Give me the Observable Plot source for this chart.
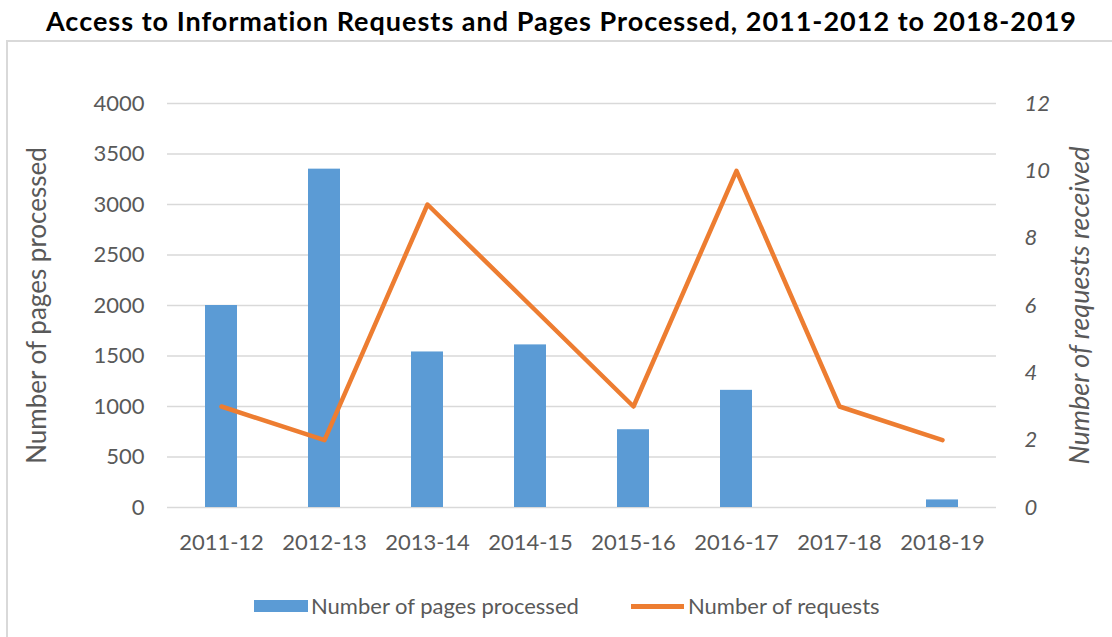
<!DOCTYPE html>
<html>
<head>
<meta charset="utf-8">
<script src="https://cdn.jsdelivr.net/npm/d3@7"></script>
<script src="https://cdn.jsdelivr.net/npm/@observablehq/plot@0.6"></script>
<style>
  html, body { margin: 0; padding: 0; background: #fff; }
  #wrap { position: relative; width: 1112px; height: 637px; overflow: hidden; font-family: Lato, "Open Sans", sans-serif; }
  #title { position: absolute; left: 0; top: 4px; width: 1112px; padding-left: 11px; box-sizing: border-box; height: 34px; line-height: 34px; text-align: center; font-weight: 700; font-size: 27px; letter-spacing: 1px; color: #000; white-space: nowrap; }
  #chart { position: absolute; left: 0; top: 41px; }
  #frame { position: absolute; left: 6px; top: 40px; width: 1200px; height: 700px; border-left: 2px solid #d9d9d9; border-top: 2px solid #d9d9d9; pointer-events: none; }
  .legend { position: absolute; font-size: 22px; color: #595959; line-height: 24px; white-space: nowrap; }
  .sw { position: absolute; }
</style>
</head>
<body>
<div id="wrap">
  <div id="title">Access to Information Requests and Pages Processed, 2011-2012 to 2018-2019</div>
  <div id="chart"></div>
  <div id="legend"></div>
  <div id="frame"></div>
</div>
<script>
// ---- data ----
const categories = ["2011-12", "2012-13", "2013-14", "2014-15", "2015-16", "2016-17", "2017-18", "2018-19"];
const pagesProcessed = [2000, 3350, 1540, 1610, 770, 1160, 0, 75];
const requestsReceived = [3, 2, 9, 6, 3, 10, 3, 2];
const leftTicks = [0, 500, 1000, 1500, 2000, 2500, 3000, 3500, 4000];
const rightTicks = [0, 2, 4, 6, 8, 10, 12];
const seriesNames = ["Number of pages processed", "Number of requests"];
const leftTitle = "Number of pages processed";
const rightTitle = "Number of requests received";
const leftMax = 4000;
const rightMax = 12;

const rows = categories.map((c, i) => ({cat: c, pages: pagesProcessed[i], requests: requestsReceived[i]}));
const toLeft = v => v * leftMax / rightMax;

const blue = "#5B9BD5";
const orange = "#ED7D31";
const grid = "#d9d9d9";
const textCol = "#595959";

const chart = Plot.plot({
  width: 1112,
  height: 596,
  marginLeft: 167,
  marginRight: 116,
  marginTop: 62,
  marginBottom: 130,
  style: {background: "transparent", fontFamily: "Lato, 'Open Sans', sans-serif", color: textCol},
  x: {domain: categories, paddingInner: 0.69, paddingOuter: 0.345, label: null},
  y: {domain: [0, leftMax], label: null},
  marks: [
    Plot.ruleY(leftTicks, {stroke: grid, strokeWidth: 1.5}),
    Plot.barY(rows, {x: "cat", y: "pages", fill: blue}),
    Plot.line(rows, {x: "cat", y: d => toLeft(d.requests), stroke: orange, strokeWidth: 4.5, strokeLinecap: "round", strokeLinejoin: "round"}),
    Plot.axisY(leftTicks, {anchor: "left", tickSize: 0, tickPadding: 23, fontSize: 22, fill: textCol, tickFormat: v => String(v), label: null}),
    Plot.axisY(rightTicks.map(toLeft), {anchor: "right", tickSize: 0, tickPadding: 28, fontSize: 22, fill: textCol, fontStyle: "italic", tickFormat: v => String(Math.round(v * rightMax / leftMax)), label: null}),
    Plot.axisX({tickSize: 0, tickPadding: 27, fontSize: 22, fill: textCol, label: null}),
    Plot.text([leftTitle], {frameAnchor: "left", dx: -130, rotate: -90, textAnchor: "middle", fontSize: 26, fill: textCol}),
    Plot.text([rightTitle], {frameAnchor: "right", dx: 84, rotate: -90, textAnchor: "middle", fontSize: 27, fontStyle: "italic", fill: textCol})
  ]
});
document.getElementById("chart").appendChild(chart);

// ---- legend ----
const leg = document.getElementById("legend");
const legendItems = [
  {name: seriesNames[0], sw: {left: 254, top: 600, width: 54, height: 12, background: blue}, tx: 311},
  {name: seriesNames[1], sw: {left: 631, top: 604, width: 53, height: 4.5, background: orange}, tx: 688}
];
legendItems.forEach(it => {
  const s = document.createElement("div");
  s.className = "sw";
  Object.entries(it.sw).forEach(([k, v]) => s.style[k] = typeof v === "number" ? v + "px" : v);
  leg.appendChild(s);
  const t = document.createElement("div");
  t.className = "legend";
  t.style.left = it.tx + "px";
  t.style.top = "594px";
  t.textContent = it.name;
  leg.appendChild(t);
});
</script>
</body>
</html>
